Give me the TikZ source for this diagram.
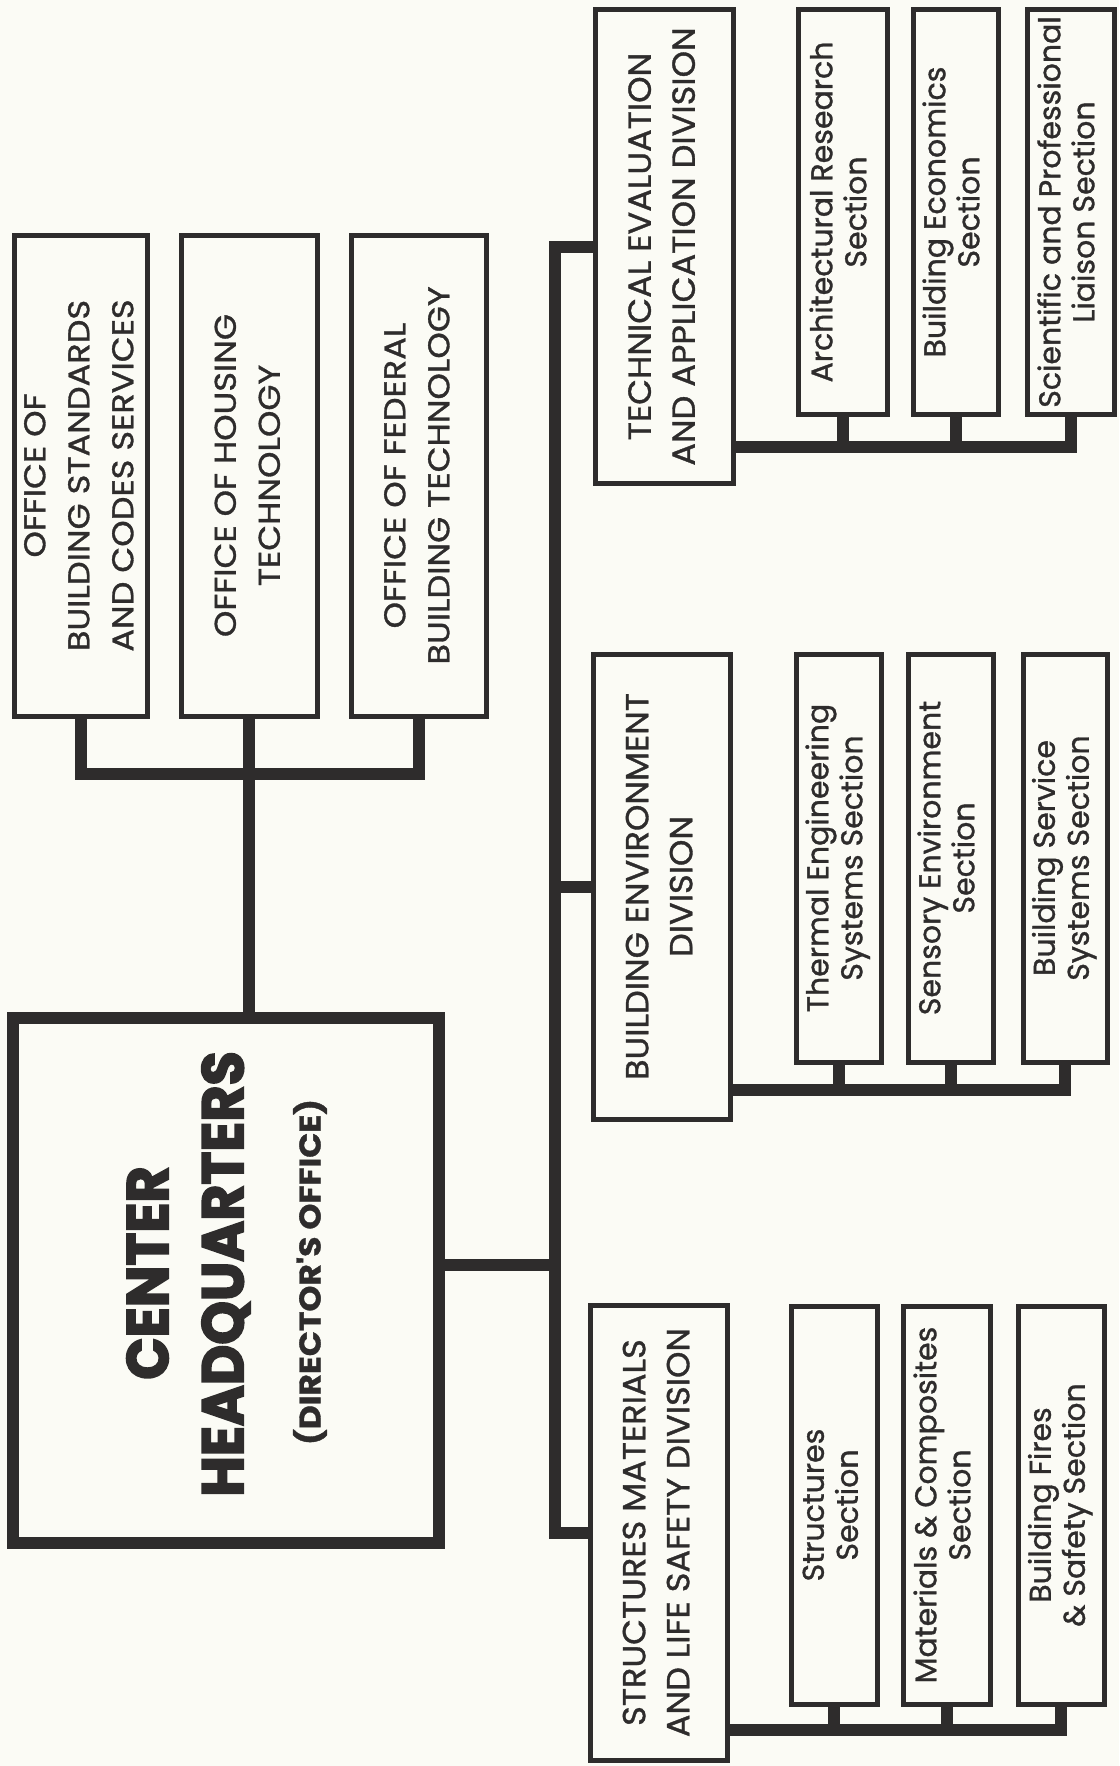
\documentclass[tikz,border=0pt]{standalone}
\usepackage{fontspec}
\setmainfont{Poppins}
\newfontfamily\ofont{Poppins}[FakeStretch=1.12,FakeBold=1.1]
\newfontfamily\dfont{Poppins}[FakeStretch=1.05,FakeBold=1.1]
\newfontfamily\sfont{Poppins}[FakeStretch=1.0,FakeBold=1.1]
\newfontfamily\hqfont{Poppins}[FakeStretch=0.95,FakeBold=3]
\newfontfamily\hqsub{Poppins}[FakeStretch=1.1,FakeBold=1.2]
\definecolor{ink}{RGB}{46,44,44}
\definecolor{paper}{RGB}{251,251,245}
\newcommand\rt[1]{\rotatebox{90}{\begin{tabular}{@{}c@{}}#1\end{tabular}}}
\begin{document}
\begin{tikzpicture}[x=1pt,y=-1pt,
  box/.style={draw=ink, line width=5pt, inner sep=0pt, text=ink},
  obox/.style={box, font=\ofont\fontsize{30}{44}\selectfont},
  dbox/.style={box, font=\dfont\fontsize{32}{44}\selectfont},
  sbox/.style={box, font=\sfont\fontsize{30}{34}\selectfont},
  hqbox/.style={draw=ink, line width=12pt, inner sep=0pt},
  hqtxt/.style={rotate=90, inner sep=0pt, text=ink},
  conn/.style={draw=ink, line width=12pt}]
\fill[paper] (0,0) rectangle (1119,1766);
\useasboundingbox (0,0) rectangle (1119,1766);

% offices
\node[obox, minimum width=133pt, minimum height=481pt] (o1) at (80.5,475.5) {\rt{OFFICE OF\\BUILDING STANDARDS\\AND CODES SERVICES}};
\node[obox, minimum width=136pt, minimum height=481pt] (o2) at (249,475.5) {\rt{OFFICE OF HOUSING\\TECHNOLOGY}};
\node[obox, minimum width=135pt, minimum height=481pt] (o3) at (418.5,475.5) {\rt{OFFICE OF FEDERAL\\BUILDING TECHNOLOGY}};

% headquarters
\node[hqbox, minimum width=426pt, minimum height=525pt] (hq) at (226,1280.5) {};
\node[hqtxt, font=\hqfont\bfseries\fontsize{58.5}{60}\selectfont] (hqa) at (147.5,1273) {CENTER};
\node[hqtxt, font=\hqfont\bfseries\fontsize{58.5}{60}\selectfont] (hqb) at (226,1274) {HEADQUARTERS};
\node[hqtxt, font=\hqsub\bfseries\fontsize{30}{32}\selectfont] (hqc) at (310,1272) {(DIRECTOR'S OFFICE)};

% divisions
\node[dbox, minimum width=138pt, minimum height=473pt] (tead) at (664,246.5) {\rt{TECHNICAL EVALUATION\\AND APPLICATION DIVISION}};
\node[dbox, minimum width=137pt, minimum height=465pt] (bed) at (661.5,886.5) {\rt{BUILDING ENVIRONMENT\\DIVISION}};
\node[dbox, minimum width=137pt, minimum height=455pt] (smlsd) at (658.5,1532.5) {\rt{STRUCTURES MATERIALS\\AND LIFE SAFETY DIVISION}};

% sections of TEAD
\node[sbox, minimum width=89pt, minimum height=404pt] (ar) at (842.5,212) {\rt{Architectural Research\\Section}};
\node[sbox, minimum width=85pt, minimum height=404pt] (be) at (955.5,212) {\rt{Building Economics\\Section}};
\node[sbox, minimum width=87pt, minimum height=404pt] (spl) at (1070.5,212) {\rt{Scientific and Professional\\Liaison Section}};

% sections of BED
\node[sbox, minimum width=85pt, minimum height=408pt] (tes) at (838.5,858) {\rt{Thermal Engineering\\Systems Section}};
\node[sbox, minimum width=85pt, minimum height=408pt] (se) at (950.5,858) {\rt{Sensory Environment\\Section}};
\node[sbox, minimum width=84pt, minimum height=408pt] (bss) at (1065,858) {\rt{Building Service\\Systems Section}};

% sections of SMLSD
\node[sbox, minimum width=86pt, minimum height=398pt] (st) at (834,1505) {\rt{Structures\\Section}};
\node[sbox, minimum width=87pt, minimum height=398pt] (mc) at (946.5,1505) {\rt{Materials \& Composites\\Section}};
\node[sbox, minimum width=86pt, minimum height=398pt] (bfs) at (1061,1505) {\rt{Building Fires\\\& Safety Section}};

% coordinates for bars
\coordinate (obar) at (0,774);
\coordinate (hqcon) at (0,1265);
\coordinate (trunk) at (555,0);
\coordinate (tbar) at (0,447);
\coordinate (bbar) at (0,1090);
\coordinate (sbar) at (0,1730);

% office connectors
\draw[conn] (o1.south) -- (o1.south |- obar) -- (o3.south |- obar) -- (o3.south);
\draw[conn] (o2.south) -- (o2.south |- hq.north);

% trunk
\draw[conn] (hq.east |- hqcon) -- (trunk |- hqcon);
\draw[conn] (tead.west) -| (trunk |- smlsd.west) -- (smlsd.west);
\draw[conn] (bed.west) -- (trunk |- bed.west);

% section bars
\draw[conn] (tead.east |- tbar) -- (spl.south |- tbar) -- (spl.south);
\draw[conn] (ar.south) -- (ar.south |- tbar);
\draw[conn] (be.south) -- (be.south |- tbar);

\draw[conn] (bed.east |- bbar) -- (bss.south |- bbar) -- (bss.south);
\draw[conn] (tes.south) -- (tes.south |- bbar);
\draw[conn] (se.south) -- (se.south |- bbar);

\draw[conn] (smlsd.east |- sbar) -- (bfs.south |- sbar) -- (bfs.south);
\draw[conn] (st.south) -- (st.south |- sbar);
\draw[conn] (mc.south) -- (mc.south |- sbar);
\end{tikzpicture}
\end{document}
